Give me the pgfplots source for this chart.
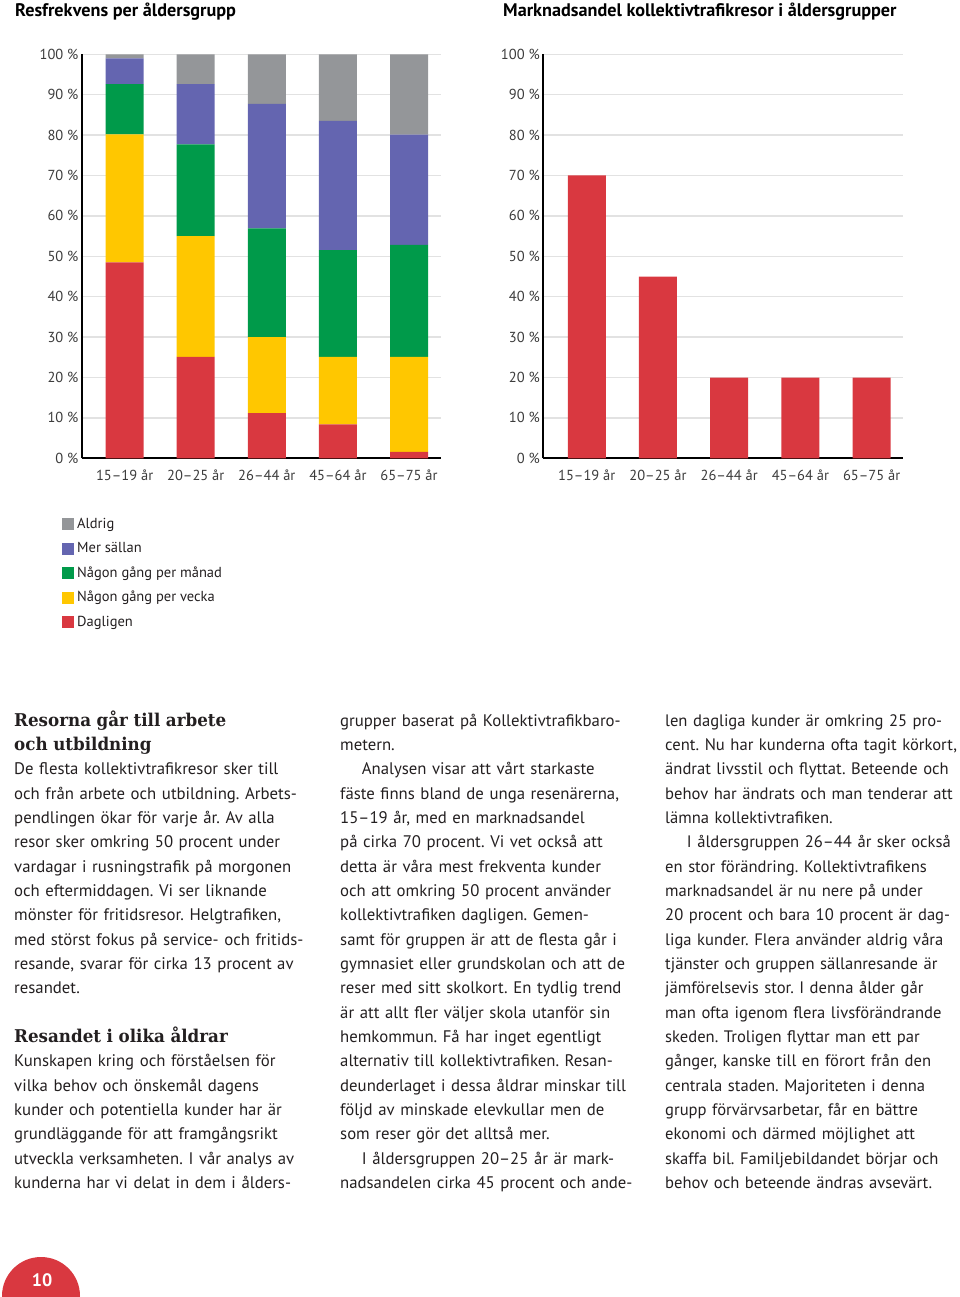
\documentclass[border=0pt]{standalone}
\usepackage{fontspec}
\setmainfont{PT Sans}
\newfontfamily\headfont{DejaVu Serif}[FakeStretch=0.95]
\usepackage{pgfplots}
\usepackage{pgfplotstable}
\pgfplotsset{compat=1.18}
\frenchspacing

\definecolor{cRed}{RGB}{217,56,64}
\definecolor{cYel}{RGB}{255,199,0}
\definecolor{cGrn}{RGB}{0,154,74}
\definecolor{cPur}{RGB}{100,101,176}
\definecolor{cGry}{RGB}{148,150,153}
\definecolor{cGrid}{RGB}{226,226,226}
\definecolor{cText}{RGB}{35,31,32}
\definecolor{cTick}{RGB}{60,60,60}

\pgfplotstableread{
x daglig vecka manad sallan aldrig
0 48.5 31.7 12.4 6.4 1.0
1 25.1 29.9 22.7 14.9 7.4
2 11.2 18.8 26.9 30.8 12.3
3 8.4 16.7 26.4 32.0 16.5
4 1.6 23.5 27.7 27.3 19.9
}\freq

\pgfplotstableread{
x andel
0 70
1 45
2 20
3 20
4 20
}\share

\pgfplotsset{
  pagestyle/.style={
    scale only axis, height=404pt,
    ymin=0, ymax=100, ytick={0,10,...,100},
    xtick={0,1,2,3,4},
    xticklabels={15–19 år,20–25 år,26–44 år,45–64 år,65–75 år},
    axis x line=bottom, axis y line=left,
    axis line style={-, line width=2pt, black},
    major tick length=0pt,
    ymajorgrids, grid style={cGrid, line width=1.4pt},
    tick label style={font=\fontsize{14.5}{16}\selectfont, text=cTick},
    yticklabel={\pgfmathprintnumber[assume math mode=true]{\tick} \%},
    x tick label style={yshift=-8pt},
    bar width=38pt,
  }
}

\newcommand\bodyfont{\fontsize{16.75}{24.35}\selectfont}
\newcommand\bodyfontc{\fontsize{16.6}{24.35}\selectfont}
\newcommand\hfont{\headfont\bfseries\fontsize{17.6}{24.35}\selectfont}

\begin{document}
\begin{tikzpicture}
\path[use as bounding box] (0pt,0pt) rectangle (960pt,-1297pt);

% titles
\node[anchor=base west, inner sep=0pt, font=\bfseries\fontsize{18.2}{20}\selectfont, text=black] at (15pt,-17pt) {Resfrekvens per åldersgrupp};
\node[anchor=base west, inner sep=0pt, font=\bfseries\fontsize{18.2}{20}\selectfont, text=black] at (503pt,-17pt) {Marknadsandel kollektivtrafikresor i åldersgrupper};

% left chart
\begin{axis}[pagestyle,
  at={(82pt,-458.3pt)}, anchor=south west,
  width=359pt, xmin=-0.6, xmax=4.45,
  ybar stacked,
  reverse legend,
  legend style={at={(-0.0557,-0.1455)}, anchor=north west, draw=none, fill=none,
    inner sep=0pt, row sep=8.5pt, column sep=3pt,
    font=\fontsize{14.5}{16}\selectfont, text=cText,
    nodes={inner sep=0pt, anchor=west, text height=11pt, text depth=5pt}},
  legend cell align=left,
  legend image code/.code={\fill[#1] (0pt,-5pt) rectangle (12pt,7pt);},
]
\addplot[fill=cRed, draw=none] table[x=x, y=daglig] {\freq};
\addplot[fill=cYel, draw=none] table[x=x, y=vecka] {\freq};
\addplot[fill=cGrn, draw=none] table[x=x, y=manad] {\freq};
\addplot[fill=cPur, draw=none] table[x=x, y=sallan] {\freq};
\addplot[fill=cGry, draw=none] table[x=x, y=aldrig] {\freq};
\legend{Dagligen, Någon gång per vecka, Någon gång per månad, Mer sällan, Aldrig}
\end{axis}

% right chart
\begin{axis}[pagestyle,
  at={(543.3pt,-458.3pt)}, anchor=south west,
  width=360pt, xmin=-0.61, xmax=4.445,
  ybar,
]
\addplot[fill=cRed, draw=none] table[x=x, y=andel] {\share};
\end{axis}

% text columns
\node[anchor=base west, inner sep=0pt, text width=330pt, align=left, font=\bodyfont, text=cText] at (14pt,-726pt) {%
{\hfont Resorna går till arbete\\
och utbildning}\\
De flesta kollektivtrafikresor sker till\\
och från arbete och utbildning. Arbets-\\
pendlingen ökar för varje år. Av alla\\
resor sker omkring 50 procent under\\
vardagar i rusningstrafik på morgonen\\
och eftermiddagen. Vi ser liknande\\
mönster för fritidsresor. Helgtrafiken,\\
med störst fokus på service- och fritids-\\
resande, svarar för cirka 13 procent av\\
resandet.\\
\mbox{}\\
{\hfont Resandet i olika åldrar}\\
Kunskapen kring och förståelsen för\\
vilka behov och önskemål dagens\\
kunder och potentiella kunder har är\\
grundläggande för att framgångsrikt\\
utveckla verksamheten. I vår analys av\\
kunderna har vi delat in dem i ålders-};

\node[anchor=base west, inner sep=0pt, text width=330pt, align=left, font=\bodyfont, text=cText] at (340pt,-726pt) {%
grupper baserat på Kollektivtrafikbaro-\\
metern.\\
\hspace*{21.7pt}Analysen visar att vårt starkaste\\
fäste finns bland de unga resenärerna,\\
15–19 år, med en marknadsandel\\
på cirka 70 procent. Vi vet också att\\
detta är våra mest frekventa kunder\\
och att omkring 50 procent använder\\
kollektivtrafiken dagligen. Gemen-\\
samt för gruppen är att de flesta går i\\
gymnasiet eller grundskolan och att de\\
reser med sitt skolkort. En tydlig trend\\
är att allt fler väljer skola utanför sin\\
hemkommun. Få har inget egentligt\\
alternativ till kollektivtrafiken. Resan-\\
deunderlaget i dessa åldrar minskar till\\
följd av minskade elevkullar men de\\
som reser gör det alltså mer.\\
\hspace*{21.7pt}I åldersgruppen 20–25 år är mark-\\
nadsandelen cirka 45 procent och ande-};

\node[anchor=base west, inner sep=0pt, text width=330pt, align=left, font=\bodyfontc, text=cText] at (665pt,-726pt) {%
len dagliga kunder är omkring 25 pro-\\
cent. Nu har kunderna ofta tagit körkort,\\
ändrat livsstil och flyttat. Beteende och\\
behov har ändrats och man tenderar att\\
lämna kollektivtrafiken.\\
\hspace*{21.7pt}I åldersgruppen 26–44 år sker också\\
en stor förändring. Kollektivtrafikens\\
marknadsandel är nu nere på under\\
20 procent och bara 10 procent är dag-\\
liga kunder. Flera använder aldrig våra\\
tjänster och gruppen sällanresande är\\
jämförelsevis stor. I denna ålder går\\
man ofta igenom flera livsförändrande\\
skeden. Troligen flyttar man ett par\\
gånger, kanske till en förort från den\\
centrala staden. Majoriteten i denna\\
grupp förvärvsarbetar, får en bättre\\
ekonomi och därmed möjlighet att\\
skaffa bil. Familjebildandet börjar och\\
behov och beteende ändras avsevärt.};

% page number
\fill[cRed] (41pt,-1296pt) circle (39pt);
\node[inner sep=0pt, font=\bfseries\fontsize{18}{20}\selectfont, text=white] at (42pt,-1280pt) {10};
\end{tikzpicture}
\end{document}
